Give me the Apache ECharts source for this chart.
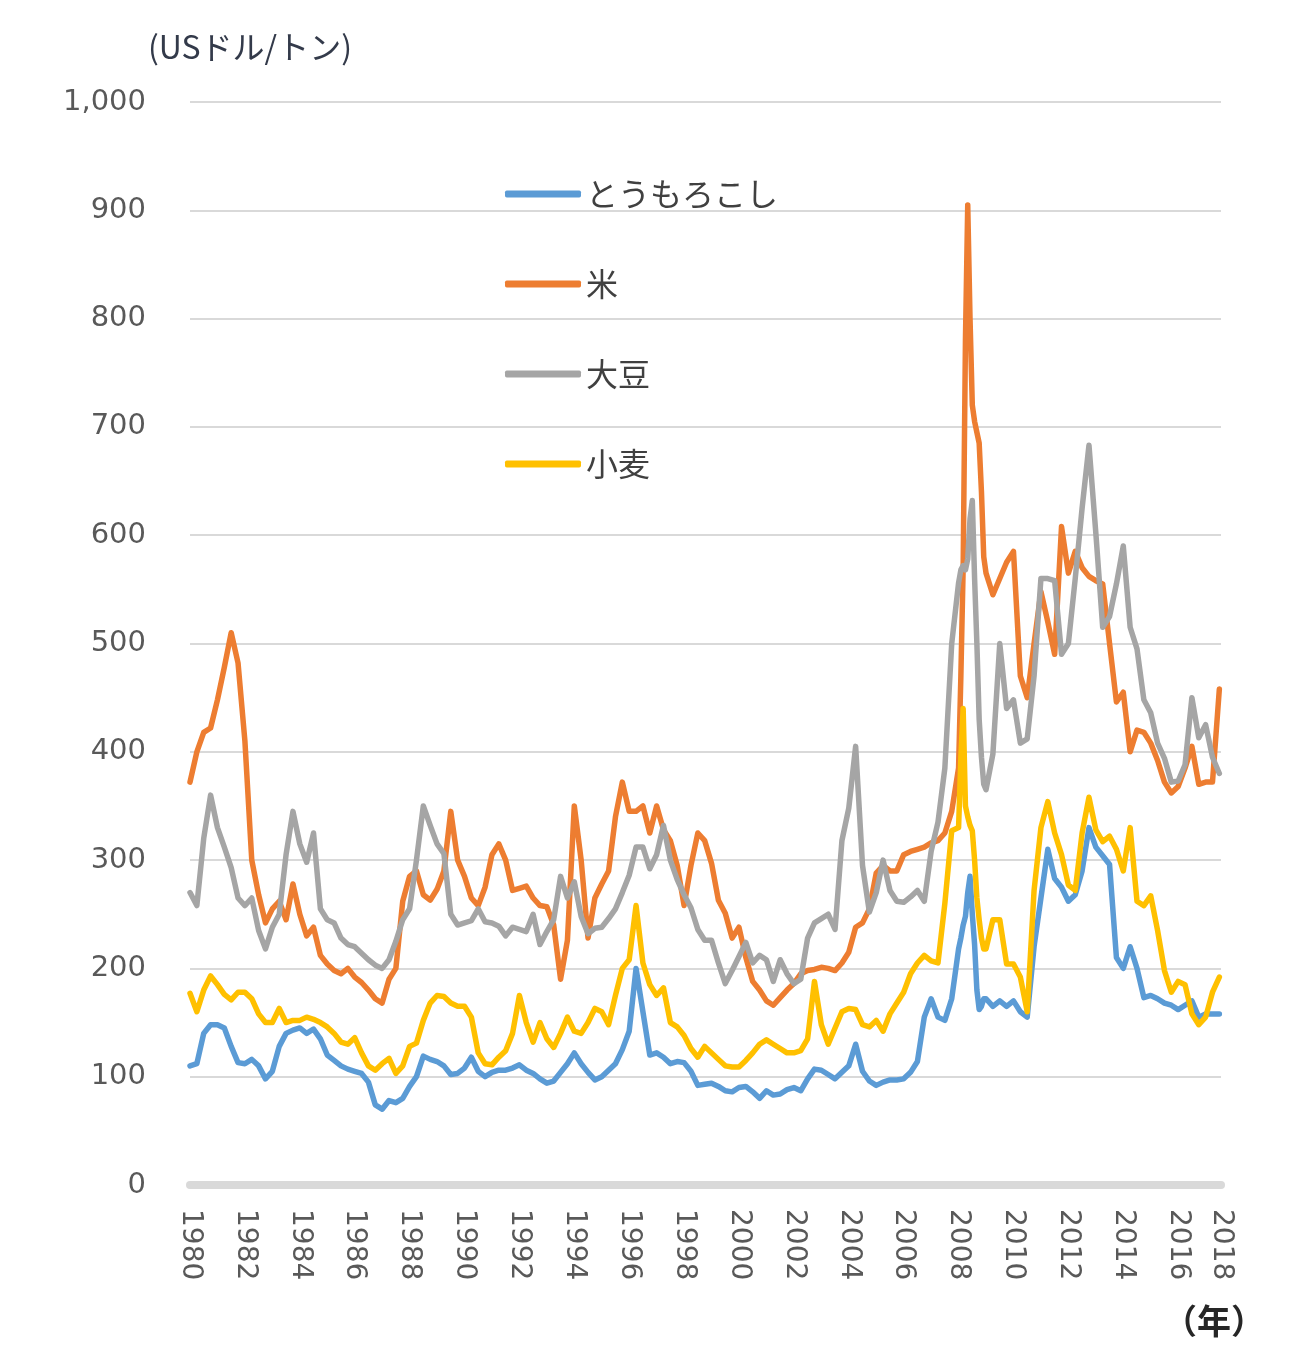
<!DOCTYPE html>
<html><head><meta charset="utf-8">
<script src="https://cdn.jsdelivr.net/npm/echarts@6/dist/echarts.min.js"></script>
<style>html,body{margin:0;padding:0;background:#fff}#c{width:1315px;height:1365px}</style>
</head><body><div id="c"></div>
<script>
const seriesNames = ['とうもろこし', '米', '大豆', '小麦'];
const seriesColors = ['#5b9bd5', '#ed7d31', '#a5a5a5', '#ffc000'];
const yTicks = [0, 100, 200, 300, 400, 500, 600, 700, 800, 900, 1000];

// Observation dates (decimal years): quarterly, monthly during 2008
const periods = [];
for (let y = 1980; y <= 2017; y++) {
  const steps = y === 2008 ? 12 : 4;
  for (let k = 0; k < steps; k++) {
    const t = y + k / steps;
    if (t <= 2017.5) periods.push(+t.toFixed(4));
  }
}

const corn = [
  110,112,140,148, 148,145,128,113, 112,116,110,98, 105,128,140,143,   // 1980-83
  145,140,144,135, 120,115,110,107, 105,103,95,74, 70,78,76,80,        // 1984-87
  91,100,119,116, 114,110,102,103, 108,118,105,100, 104,106,106,108,   // 1988-91
  111,106,103,98, 94,96,104,112, 122,112,104,97, 100,106,112,125,      // 1992-95
  142,200,160,120, 122,118,112,114, 113,105,92,93, 94,91,87,86,        // 1996-99
  90,91,86,80, 87,83,84,88, 90,87,98,107, 106,102,98,104,              // 2000-03
  110,130,105,96, 92,95,97,97, 98,104,114,155, 172,155,152,172,        // 2004-07
  218,228,240,248,270,285,250,222,180,162,165,172,                     // 2008 monthly
  172,165,170,165, 170,160,155,220, 265,310,283,275,                   // 2009-11
  262,268,290,330, 312,304,296,210, 200,220,200,173,                   // 2012-14
  175,172,168,166, 162,166,170,155, 158,158,158                        // 2015-17
];
const rice = [
  372,400,418,422, 448,478,510,482, 410,300,268,242, 255,262,245,278,
  250,230,238,212, 204,198,195,200, 192,187,180,172, 168,190,200,262,
  285,290,268,263, 273,290,345,300, 285,265,258,275, 305,315,300,272,
  274,276,265,258, 257,240,190,226, 350,300,228,265, 278,290,340,372,
  345,345,350,325, 350,328,318,295, 258,295,325,318, 297,263,251,228,
  238,210,188,180, 170,166,173,180, 186,195,198,199, 201,200,198,205,
  215,238,242,255, 288,295,290,290, 305,308,310,312, 316,318,325,345,
  385,470,570,780,905,800,720,705,695,685,640,580,
  565,545,560,575, 585,470,450,500, 548,520,490,608,
  565,585,570,562, 558,555,500,446, 455,400,420,418,
  408,392,372,362, 368,385,405,370, 372,372,458
];
const soybean = [
  270,258,320,360, 330,312,293,265, 258,265,235,218, 238,250,305,345,
  315,298,325,255, 245,242,228,222, 220,214,208,203, 200,208,225,245,
  255,300,350,332, 315,306,250,240, 242,244,255,243, 242,239,230,238,
  236,234,250,222, 234,245,285,265, 280,248,232,237, 238,246,255,270,
  286,312,312,292, 305,332,300,282, 268,256,236,226, 226,205,186,198,
  211,224,205,212, 208,188,208,195, 186,190,228,242, 246,250,236,318,
  348,405,295,252, 270,300,272,262, 261,266,272,262, 308,335,385,500,
  556,568,572,568,578,615,632,560,500,430,395,370,
  365,398,500,440, 448,408,412,470, 560,560,558,490,
  500,560,625,683, 602,515,525,555, 590,515,495,448,
  436,408,394,372, 373,388,450,413, 425,395,380
];
const wheat = [
  177,160,180,193, 185,176,171,178, 178,172,158,150, 150,163,150,152,
  152,155,153,150, 146,140,132,130, 136,122,110,106, 112,117,103,110,
  128,131,152,168, 175,174,168,165, 165,155,122,112, 111,118,124,140,
  175,150,132,150, 135,127,140,155, 142,140,150,163, 160,148,175,200,
  208,258,205,185, 175,182,150,146, 138,126,118,128, 122,116,110,109,
  109,115,122,130, 134,130,126,122, 122,124,135,188, 148,130,145,160,
  163,162,148,146, 152,142,158,168, 178,195,205,212, 207,205,260,327,
  330,395,440,350,340,332,327,300,265,245,228,218,
  218,245,245,204, 204,192,160,272, 330,354,325,305,
  277,272,325,358, 328,317,322,310, 290,330,262,258,
  267,235,198,178, 188,185,158,148, 155,178,192
];
const seriesValues = [corn, rice, soybean, wheat];

const jp = "'Noto Sans CJK JP', 'Noto Sans', sans-serif";
const num = "'DejaVu Sans', 'Noto Sans', sans-serif";

const chart = echarts.init(document.getElementById('c'), null, {renderer: 'canvas'});
chart.setOption({
  animation: false,
  backgroundColor: '#ffffff',
  grid: {left: 190, right: 94, top: 102, bottom: 180},
  legend: {
    orient: 'vertical', left: 500, top: 169,
    icon: 'roundRect', itemWidth: 76, itemHeight: 7, itemGap: 50,
    data: seriesNames,
    textStyle: {fontFamily: jp, fontSize: 32, color: '#404040', lineHeight: 40}
  },
  xAxis: {
    type: 'value', min: 1980, max: 2017.56, interval: 2,
    splitLine: {show: false},
    axisTick: {show: false},
    axisLine: {show: true, lineStyle: {color: '#d9d9d9', width: 8}},
    axisLabel: {
      rotate: -90, margin: 24, fontFamily: num, fontSize: 28, color: '#595959',
      formatter: v => (v > 2017 ? '2018' : String(Math.round(v)))
    }
  },
  yAxis: {
    type: 'value', min: yTicks[0], max: yTicks[yTicks.length - 1], interval: 100,
    axisLine: {show: false}, axisTick: {show: false},
    splitLine: {lineStyle: {color: '#d9d9d9', width: 2}},
    axisLabel: {
      margin: 44, fontFamily: num, fontSize: 29, color: '#595959',
      formatter: v => v.toLocaleString('en-US')
    }
  },
  graphic: [
    {type: 'text', left: 148, top: 31,
     style: {text: '(USドル/トン)', fontFamily: jp, fontSize: 32, fill: '#333a4a'}},
    {type: 'text', left: 1163, top: 1304,
     style: {text: '（年）', fontFamily: jp, fontSize: 34, fontWeight: 'bold', fill: '#262626'}}
  ],
  series: seriesNames.map((name, s) => ({
    name, type: 'line', showSymbol: false, symbol: 'none',
    data: periods.map((p, i) => [p, seriesValues[s][i]]),
    lineStyle: {width: 5.5, color: seriesColors[s], cap: 'round', join: 'round'},
    itemStyle: {color: seriesColors[s]},
    emphasis: {disabled: true},
    z: 2 + s
  }))
});
</script>
</body></html>
